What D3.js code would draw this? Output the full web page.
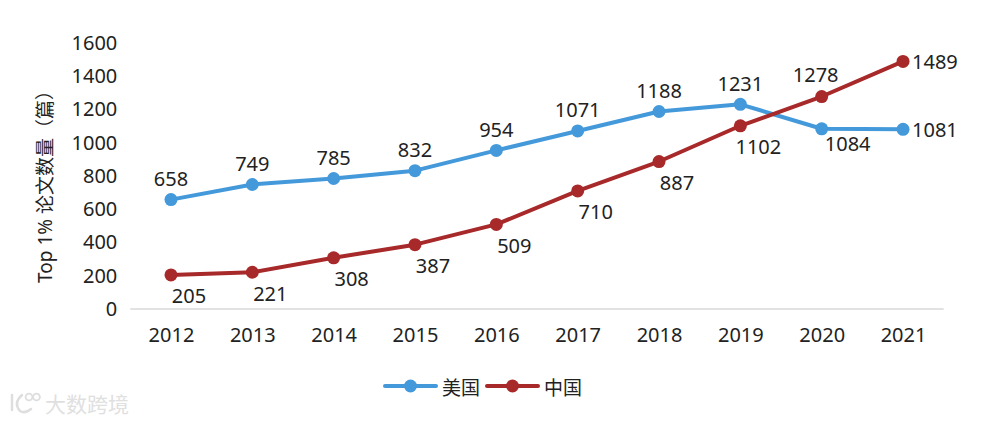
<!DOCTYPE html>
<html>
<head>
<meta charset="utf-8">
<script src="https://cdn.jsdelivr.net/npm/d3@7/dist/d3.min.js"></script>
<style>
  html, body { margin: 0; padding: 0; background: #ffffff; }
  svg { display: block; }
  text { font-family: "Noto Sans", "Noto Sans CJK SC", sans-serif; fill: #222222; }
</style>
</head>
<body>
<svg id="chart" width="994" height="422"></svg>
<script>
// ---- data ----
const years = ["2012", "2013", "2014", "2015", "2016", "2017", "2018", "2019", "2020", "2021"];
const usValues = [658, 749, 785, 832, 954, 1071, 1188, 1231, 1084, 1081];
const cnValues = [205, 221, 308, 387, 509, 710, 887, 1102, 1278, 1489];
const seriesNames = ["美国", "中国"];
const yTicks = [0, 200, 400, 600, 800, 1000, 1200, 1400, 1600];
const yTitle = "Top 1% 论文数量（篇）";
const watermark = "大数跨境";

// ---- layout ----
const plotLeft = 130.3, plotRight = 943.7, plotTop = 43, plotBottom = 309;
const colors = ["#4499da", "#a8292a"];

const svg = d3.select("#chart");

const x = d3.scalePoint().domain(years).range([plotLeft, plotRight]).padding(0.5);
const y = d3.scaleLinear().domain([0, 1600]).range([plotBottom, plotTop]);

// y axis (labels only)
const yAxis = d3.axisLeft(y).tickValues(yTicks).tickFormat(d3.format("d")).tickSize(0).tickPadding(13);
const gy = svg.append("g").attr("transform", `translate(${plotLeft},0)`).call(yAxis);
gy.select(".domain").remove();
gy.selectAll("text").style("font-size", "20px").attr("fill", "#222222")
  .style("font-family", "'Noto Sans', sans-serif");

// x axis
const xAxis = d3.axisBottom(x).tickSize(0).tickPadding(19);
const gx = svg.append("g").attr("transform", `translate(0,${plotBottom})`).call(xAxis);
gx.select(".domain").attr("stroke", "#d9d9d9").attr("stroke-width", 1.5)
  .attr("d", `M${plotLeft},0H${plotRight}`);
gx.selectAll("text").style("font-size", "20px").attr("fill", "#222222")
  .style("font-family", "'Noto Sans', sans-serif");

// y title
svg.append("text")
  .attr("transform", `translate(45,182) rotate(-90)`)
  .attr("text-anchor", "middle")
  .attr("dominant-baseline", "central")
  .style("font-size", "19px")
  .text(yTitle);

// series
const series = [usValues, cnValues];
const line = d3.line().x((d, i) => x(years[i])).y(d => y(d));

function labelPlacement(s, i) {
  const last = years.length - 1;
  if (i === last) return { dx: 9, dy: 0, anchor: "start" };
  if (s === 0) {
    if (i === last - 1) return { dx: 26, dy: 15, anchor: "middle" };
    return { dx: 0, dy: -21, anchor: "middle" };
  } else {
    if (i === last - 1) return { dx: -6, dy: -22, anchor: "middle" };
    return { dx: 18, dy: 21, anchor: "middle" };
  }
}

series.forEach((vals, s) => {
  const g = svg.append("g");
  g.append("path").datum(vals)
    .attr("d", line)
    .attr("fill", "none")
    .attr("stroke", colors[s])
    .attr("stroke-width", 4)
    .attr("stroke-linejoin", "round");
  g.selectAll("circle").data(vals).join("circle")
    .attr("cx", (d, i) => x(years[i]))
    .attr("cy", d => y(d))
    .attr("r", 6.5)
    .attr("fill", colors[s]);
  g.selectAll("text.lbl").data(vals).join("text")
    .attr("class", "lbl")
    .attr("x", (d, i) => x(years[i]) + labelPlacement(s, i).dx)
    .attr("y", (d, i) => y(d) + labelPlacement(s, i).dy)
    .attr("text-anchor", (d, i) => labelPlacement(s, i).anchor)
    .attr("dominant-baseline", "central")
    .style("font-size", "20px")
    .text(d => d);
});

// legend
const legend = svg.append("g");
const legendX = [385, 487];
seriesNames.forEach((name, s) => {
  const lx = legendX[s], ly = 386;
  legend.append("line").attr("x1", lx).attr("x2", lx + 51).attr("y1", ly).attr("y2", ly)
    .attr("stroke", colors[s]).attr("stroke-width", 4).attr("stroke-linecap", "round");
  legend.append("circle").attr("cx", lx + 25.5).attr("cy", ly).attr("r", 6.5).attr("fill", colors[s]);
  legend.append("text").attr("x", lx + 57).attr("y", ly)
    .attr("dominant-baseline", "central")
    .style("font-size", "19px")
    .style("font-family", "'Noto Sans CJK SC', sans-serif")
    .text(name);
});

// watermark
const wm = svg.append("g");
wm.append("path")
  .attr("d", "M12,395 L12,410 M22,395 Q13,403 20,411 Q25,414 31,409")
  .attr("fill", "none").attr("stroke", "#dedede").attr("stroke-width", 2.5).attr("stroke-linecap", "round");
wm.append("circle").attr("cx", 29).attr("cy", 397).attr("r", 3.4).attr("fill", "none").attr("stroke", "#dedede").attr("stroke-width", 1.8);
wm.append("circle").attr("cx", 36.5).attr("cy", 397).attr("r", 3.4).attr("fill", "none").attr("stroke", "#dedede").attr("stroke-width", 1.8);
wm.append("text").attr("x", 45).attr("y", 403)
  .attr("dominant-baseline", "central")
  .style("font-size", "21px")
  .style("font-family", "'Noto Sans CJK SC', sans-serif")
  .style("fill", "#e0e0e0")
  .text(watermark);
</script>
</body>
</html>
